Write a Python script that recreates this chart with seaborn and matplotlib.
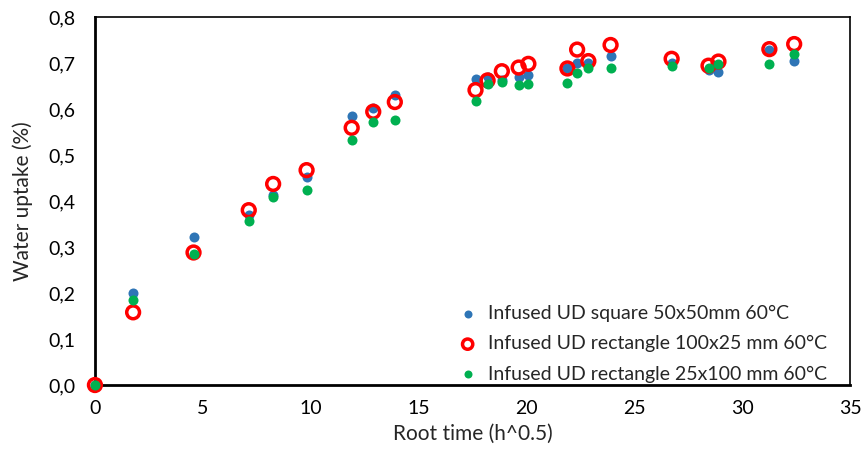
import numpy as np
import pandas as pd
import matplotlib
matplotlib.use('Agg')
import matplotlib.pyplot as plt
import seaborn as sns

# Data
root_time = [0, 1.77, 4.57, 7.13, 8.26, 9.81, 11.9, 12.9, 13.9, 17.64, 18.2, 18.86,
             19.64, 20.09, 21.9, 22.35, 22.87, 23.9, 26.73, 28.44, 28.9, 31.26, 32.41]
square_50x50 = [0, 0.201, 0.321, 0.370, 0.413, 0.452, 0.585, 0.601, 0.631, 0.664, 0.670, 0.662,
                0.670, 0.673, 0.688, 0.699, 0.700, 0.715, 0.700, 0.685, 0.681, 0.728, 0.705]
rect_100x25 = [0, 0.158, 0.288, 0.380, 0.437, 0.467, 0.559, 0.594, 0.615, 0.641, 0.662, 0.682,
               0.690, 0.698, 0.688, 0.729, 0.704, 0.739, 0.709, 0.694, 0.703, 0.730, 0.741]
rect_25x100 = [0, 0.184, 0.285, 0.356, 0.408, 0.423, 0.533, 0.572, 0.577, 0.618, 0.654, 0.658,
               0.653, 0.655, 0.656, 0.678, 0.688, 0.690, 0.693, 0.690, 0.697, 0.698, 0.720]

series_labels = ['Infused UD square 50x50mm 60°C',
                 'Infused UD rectangle 100x25 mm 60°C',
                 'Infused UD rectangle 25x100 mm 60°C']
x_ticks = [0, 5, 10, 15, 20, 25, 30, 35]
y_ticks = [0.0, 0.1, 0.2, 0.3, 0.4, 0.5, 0.6, 0.7, 0.8]
y_tick_labels = ['0,0', '0,1', '0,2', '0,3', '0,4', '0,5', '0,6', '0,7', '0,8']

df = pd.DataFrame({'root_time': root_time, 'sq': square_50x50,
                   'r1': rect_100x25, 'r2': rect_25x100})

sns.set_style('white')
plt.rcParams['font.family'] = ['Lato', 'DejaVu Sans']

fig = plt.figure(figsize=(8.63, 4.5), dpi=100)
ax = fig.add_axes([0.110, 0.1444, 0.875, 0.818])

sns.scatterplot(data=df, x='root_time', y='sq', ax=ax, color='#2E75B6', s=52,
                linewidth=0, label=series_labels[0], zorder=3)
sns.scatterplot(data=df, x='root_time', y='r1', ax=ax, facecolors='none',
                edgecolor='#FF0000', s=85, linewidth=2.5, label=series_labels[1], zorder=4)
sns.scatterplot(data=df, x='root_time', y='r2', ax=ax, color='#00B050', s=52,
                linewidth=0, label=series_labels[2], zorder=5)

ax.set_xlim(0, 35)
ax.set_ylim(0, 0.8)
ax.set_xticks(x_ticks)
ax.set_yticks(y_ticks)
ax.set_yticklabels(y_tick_labels)
ax.tick_params(axis='both', direction='in', length=5, width=1.5, labelsize=14,
               colors='black')
ax.tick_params(axis='x', pad=11)
ax.tick_params(axis='y', pad=14)
for side in ['left', 'bottom']:
    ax.spines[side].set_linewidth(2)
    ax.spines[side].set_color('black')
for side in ['top', 'right']:
    ax.spines[side].set_linewidth(1.2)
    ax.spines[side].set_color('black')
for coll in ax.collections:
    coll.set_clip_on(False)

ax.set_xlabel('Root time (h^0.5)', fontsize=15, labelpad=5)
ax.set_ylabel('Water uptake (%)', fontsize=15, labelpad=11)

leg = ax.legend(loc='lower right', frameon=False, fontsize=14, handletextpad=0.05,
                labelspacing=0.68, borderaxespad=0.2, markerscale=0.8,
                bbox_to_anchor=(0.985, -0.025))

fig.savefig('out.png', dpi=100)
